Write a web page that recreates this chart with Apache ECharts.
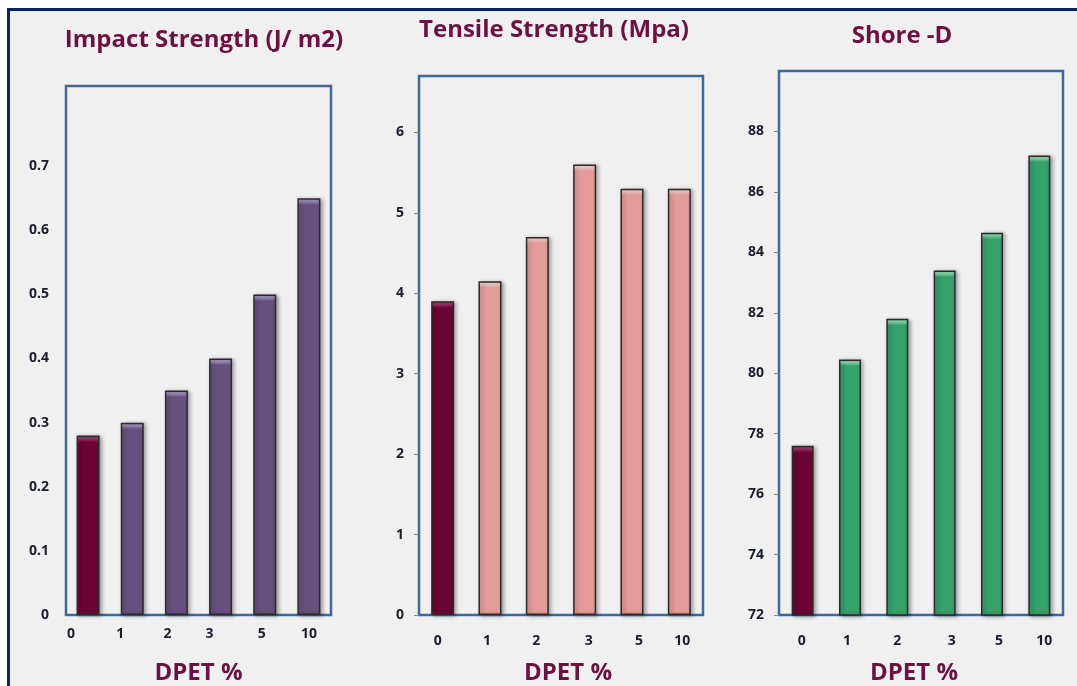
<!DOCTYPE html>
<html>
<head>
<meta charset="utf-8">
<script src="https://cdn.jsdelivr.net/npm/echarts@6/dist/echarts.min.js"></script>
<style>
  html, body { margin: 0; padding: 0; background: #ffffff; }
  #frame {
    position: absolute; left: 7px; top: 8px; width: 1070px; height: 678px;
    background: #f0f0f0; border-left: 3px solid #0b2462; border-top: 3px solid #0b2462;
    box-sizing: border-box;
  }
  #chart { position: absolute; left: 0; top: 0; width: 1077px; height: 686px; }
</style>
</head>
<body>
<div id="frame"></div>
<div id="chart"></div>
<script>
// DPET content (%) on the x axis of every panel
const categories = ['0', '1', '2', '3', '5', '10'];

// Measured properties
const impactValues  = [0.28, 0.30, 0.35, 0.40, 0.50, 0.65];   // J/m2
const tensileValues = [3.9, 4.15, 4.7, 5.6, 5.3, 5.3];        // MPa
const shoreValues   = [77.6, 80.45, 81.8, 83.4, 84.65, 87.2]; // Shore D

// Panel titles and the shared x-axis name
const titles = ['Impact Strength (J/ m2)', 'Tensile Strength (Mpa)', 'Shore -D'];
const xAxisName = 'DPET %';

// Value-axis ranges: [min, max, step, last labelled tick]
const impactAxis  = [0, 0.825, 0.1, 0.7];
const tensileAxis = [0, 6.7, 1, 6];
const shoreAxis   = [72, 90, 2, 88];

const FONT = '"Open Sans", "DejaVu Sans", sans-serif';
const TITLE_COLOR = '#6b1240';
const LABEL_COLOR = '#1c1c2c';
const BOX_COLOR = '#3f6799';
const REF_COLOR = '#6c0535', REF_LIGHT = '#a2346c';

const panels = [
  { values: impactValues, axis: impactAxis, color: '#67517f', light: '#a38fc0',
    grid: { left: 66, top: 86, width: 265, height: 529 }, titleX: 204, titleY: 28,
    ticks: false, labelMargin: 12, barWidth: 23, nameShift: 0,
    nudge: [-17, -12, -9, -11, -3, 0] },
  { values: tensileValues, axis: tensileAxis, color: '#e49c9b', light: '#f8cfcd',
    grid: { left: 419, top: 76, width: 284, height: 539 }, titleX: 554, titleY: 18,
    ticks: true, labelMargin: 19, barWidth: 23, nameShift: 7,
    nudge: [-5, -3, -1, 4, 7, 3] },
  { values: shoreValues, axis: shoreAxis, color: '#35a16b', light: '#86dcaf',
    grid: { left: 779, top: 71, width: 284, height: 544 }, titleX: 902, titleY: 24,
    ticks: true, labelMargin: 19, barWidth: 22, nameShift: -7,
    nudge: [-1, -3, 0, 7, 7, 5] }
];

// Bar fill with a light bevel strip along the top edge
function barFill(value, p, base, light) {
  const [min, max] = p.axis;
  const h = Math.max(1, (value - min) / (max - min) * p.grid.height);
  const f = Math.min(0.5, 3 / h);
  return {
    type: 'linear', x: 0, y: 0, x2: 0, y2: 1,
    colorStops: [
      { offset: 0, color: light },
      { offset: f, color: light },
      { offset: Math.min(0.6, f * 2.2), color: base },
      { offset: 1, color: base }
    ]
  };
}

// Horizontal nudge for a centred label, expressed as asymmetric padding
function shiftPad(d) {
  return d < 0 ? [0, -2 * d, 0, 0] : [0, 0, 0, 2 * d];
}

const option = {
  animation: false,
  backgroundColor: 'transparent',
  title: panels.map((p, i) => ({
    text: titles[i], left: p.titleX, top: p.titleY, textAlign: 'center', padding: 0,
    textStyle: { fontFamily: FONT, fontWeight: 'bold', fontSize: 24, color: TITLE_COLOR }
  })),
  grid: panels.map((p) => Object.assign({
    show: true, borderColor: BOX_COLOR, borderWidth: 2.5, backgroundColor: 'transparent',
    outerBoundsMode: 'none', containLabel: false
  }, p.grid)),
  xAxis: panels.map((p, i) => {
    const rich = {};
    p.nudge.forEach((d, k) => {
      rich['n' + k] = {
        fontFamily: FONT, fontWeight: 'bold', fontSize: 14, color: LABEL_COLOR,
        padding: shiftPad(d)
      };
    });
    return {
      type: 'category', gridIndex: i, data: categories,
      axisLine: { show: false }, axisTick: { show: false },
      axisLabel: {
        margin: p.labelMargin, interval: 0,
        formatter: (v, k) => '{n' + k + '|' + v + '}', rich: rich
      },
      name: xAxisName, nameLocation: 'middle', nameGap: 46,
      nameTextStyle: {
        fontFamily: FONT, fontWeight: 'bold', fontSize: 24, color: TITLE_COLOR,
        padding: shiftPad(p.nameShift)
      }
    };
  }),
  yAxis: panels.map((p, i) => ({
    type: 'value', gridIndex: i, min: p.axis[0], max: p.axis[1], interval: p.axis[2],
    splitLine: { show: false }, axisLine: { show: false },
    axisTick: { show: p.ticks, length: 5, lineStyle: { color: '#8a8a8a', width: 1 } },
    axisLabel: {
      margin: p.ticks ? 15 : 17, fontFamily: FONT, fontWeight: 'bold', fontSize: 14, color: LABEL_COLOR,
      showMaxLabel: false,
      formatter: (v) => (v > p.axis[3] + 1e-9 ? '' : String(+v.toFixed(2)))
    }
  })),
  series: panels.map((p, i) => ({
    type: 'bar', xAxisIndex: i, yAxisIndex: i, barWidth: p.barWidth,
    data: p.values.map((v, k) => ({
      value: v,
      itemStyle: {
        color: k === 0 ? barFill(v, p, REF_COLOR, REF_LIGHT) : barFill(v, p, p.color, p.light),
        borderColor: '#2a2a2a', borderWidth: 1.5,
        shadowColor: 'rgba(0,0,0,0.35)', shadowBlur: 4, shadowOffsetX: 2, shadowOffsetY: 1
      }
    }))
  }))
};

const chart = echarts.init(document.getElementById('chart'), null, { renderer: 'canvas' });
chart.setOption(option);
</script>
</body>
</html>
